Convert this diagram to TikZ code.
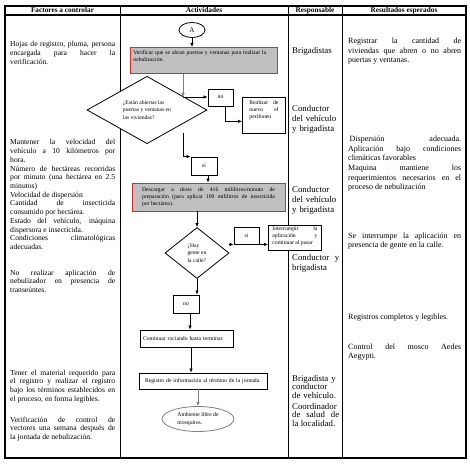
\documentclass[tikz,border=0pt]{standalone}
\usepackage{fontspec}
\setmainfont{Liberation Serif}
\usetikzlibrary{shapes.geometric,arrows.meta}
\definecolor{boxred}{RGB}{228,38,44}
\definecolor{boxgrey}{RGB}{192,192,192}
\newcommand\setfs[2]{\fontsize{#1}{#2}\selectfont}
\tikzset{
  stepbox/.style={draw, line width=0.8pt, fill=white, inner sep=1.5pt, align=left, font=\setfs{5.7}{7}},
  greybox/.style={stepbox, draw=boxred, fill=boxgrey},
  askdiamond/.style={diamond, draw, line width=0.8pt, fill=white, inner sep=0pt, align=left, font=\setfs{5.6}{7.7}},
  startnode/.style={ellipse, draw, line width=0.8pt, minimum width=26pt, minimum height=15pt, inner sep=0pt, font=\setfs{7}{8}},
  endellipse/.style={ellipse, draw=gray, line width=0.8pt, fill=white, minimum width=72pt, minimum height=25pt, inner sep=0pt, align=left, font=\setfs{5.7}{7.3}},
  flow/.style={->, line width=0.7pt},
  softflow/.style={flow, draw=gray},
  headcell/.style={inner sep=0pt, font=\bfseries\setfs{7.3}{8}},
  cell/.style={anchor=base west, inner sep=0pt, align=justify},
  factor/.style={cell, text width=105pt, font=\setfs{7.6}{8.7}},
  who/.style={cell, text width=47pt, align=left, font=\setfs{8.8}{10}},
  result/.style={cell, text width=113pt, font=\setfs{8}{9.5}}
}
\begin{document}
\begin{tikzpicture}[x=1pt, y=-1pt, >={Latex[length=4pt,width=3.6pt]}]
    \useasboundingbox (0,0) rectangle (470,465);
    % table
    \draw[line width=1.3pt] (5,6) rectangle (466,458);
    \draw[line width=1.3pt] (5,15) -- (466,15);
    \foreach \cx in {120,288,342}
        \draw[line width=1pt] (\cx,6) -- (\cx,458);
    \node[headcell] (hfac) at (62.5,10.5) {Factores a controlar};
    \node[headcell] (hact) at (204,10.5) {Actividades};
    \node[headcell] (hwho) at (315,10.5) {Responsable};
    \node[headcell] (hres) at (404,10.5) {Resultados esperados};

    % activities
    \node[startnode] (A) at (192,30) {A};
    \node[greybox, anchor=north west, text width=141pt, inner xsep=3pt, inner ysep=3pt, text depth=15.9pt] (verif) at (130,47) {Verificar que se abran puertas y ventanas para realizar la\\ nebulización.};
    \node[askdiamond, minimum width=120pt, minimum height=60pt] (open) at (147,110) {¿Están abiertas las\\ puertas y ventanas en\\ las viviendas?};
    \node[stepbox, minimum width=25pt, minimum height=17pt] (no1) at (220.5,97.5) {no};
    \node[stepbox, anchor=north west, text width=29pt, align=justify, inner xsep=7pt, inner ysep=3pt, text depth=25.9pt] (again) at (242,97) {Realizar de\linebreak nuevo el\linebreak perifoneo};
    \node[stepbox, minimum width=26pt, minimum height=18pt] (si1) at (204,166) {si};
    \node[greybox, minimum width=153pt, minimum height=28pt, text width=133pt, align=justify] (dose) at (208.5,197) {Descargar a dosis de 416 mililitros/minuto de\linebreak preparación (para aplicar 100 mililitros de insecticida\linebreak por hectárea).};
    \node[askdiamond, minimum width=64pt, minimum height=51pt] (people) at (197,253) {¿Hay\\ gente en\\ la calle?};
    \node[stepbox, minimum width=25pt, minimum height=17pt] (si2) at (246.5,235.5) {si};
    \node[stepbox, anchor=north west, text width=45pt, align=justify, inner xsep=4pt, inner ysep=1pt, text depth=18.9pt] (stop) at (268,225) {Interrumpir la\linebreak aplicación y\linebreak continuar al pasar};
    \node[stepbox, minimum width=26pt, minimum height=18pt] (no2) at (186,304) {no};
    \node[stepbox, minimum width=93pt, minimum height=17pt, text width=87pt] (spray) at (186.5,338.5) {Continuar rociando hasta terminar.};
    \node[stepbox, minimum width=128pt, minimum height=16pt, text width=126pt, inner xsep=1pt] (log) at (203,381) {\hspace*{5pt}Registro de información al término de la jornada.};
    \node[endellipse] (clean) at (198,419) {Ambiente libre de\\ mosquitos.};

    \coordinate (openin) at (183,97);
    \coordinate (openout) at (183,133);
    \draw[flow] (A.south) -- (A.south |- verif.north);
    \draw[softflow] (verif.south -| openin) -- (openin);
    \draw[flow] (openin) -- (openin -| no1.west);
    \draw[flow] ([xshift=5pt]no1.south) |- ([yshift=-6pt]again.west);
    \draw[flow] (openout) |- (si1.north west);
    \draw[flow] ([xshift=4pt]si1.south) -- ([xshift=4pt]si1.south |- dose.north);
    \draw[flow] (people.north |- dose.south) -- (people.north);
    \draw[flow] (people.east |- si2.south) -- (si2.south west);
    \draw[flow] (si2.south east) -- (si2.south east -| stop.west);
    \draw[flow] (people.south) -- (people.south |- no2.north);
    \draw[flow] ([xshift=4pt]no2.south) -- ([xshift=4pt]no2.south |- spray.north);
    \draw[flow] ([xshift=4.5pt]spray.south) -- ([xshift=4.5pt]spray.south |- log.north);
    \draw[softflow] (clean.north |- log.south) -- (clean.north);

    % factores a controlar
    \node[factor] (f1) at (10,47) {Hojas de registro, pluma, persona\linebreak encargada para hacer la\linebreak verificación.};
    \node[factor] (f2) at (10,145) {Mantener la velocidad del\linebreak vehículo a 10 kilómetros por\linebreak hora.\\ Número de hectáreas recorridas\linebreak por minuto (una hectárea en 2.5\linebreak minutos)\\ Velocidad de dispersión\\ Cantidad de insecticida\linebreak consumido por hectárea.\\ Estado del vehículo, máquina\linebreak dispersora e insecticida.\\ Condiciones climatológicas\linebreak adecuadas.};
    \node[factor] (f3) at (10,275) {No realizar aplicación de\linebreak nebulizador en presencia de\linebreak transeúntes.};
    \node[factor] (f4) at (10,375) {Tener el material requerido para\linebreak el registro y realizar el registro\linebreak bajo los términos establecidos en\linebreak el proceso, en forma legibles.};
    \node[factor] (f5) at (10,422) {Verificación de control de\linebreak vectores una semana después de\linebreak la jornada de nebulización.};

    % responsable
    \node[who] (w1) at (292,54) {Brigadistas};
    \node[who] (w2) at (292,112) {Conductor\\ del vehículo\\ y brigadista};
    \node[who] (w3) at (292,192) {Conductor\\ del vehículo\\ y brigadista};
    \node[who, align=justify] (w4) at (292,260) {Conductor y\linebreak brigadista};
    \node[who, font=\setfs{8.8}{8.5}] (w5) at (292,381) {Brigadista y\\ conductor\\ de vehículo.};
    \node[who, align=justify, font=\setfs{8.8}{8.5}] (w6) at (292,409) {Coordinador\linebreak de salud de\linebreak la localidad.};

    % resultados esperados
    \node[result] (r1) at (348,44) {Registrar la cantidad de\linebreak viviendas que abren o no abren\linebreak puertas y ventanas.};
    \node[result] (r2) at (348,142) {\hspace*{1.5pt}Dispersión adecuada.\linebreak Aplicación bajo condiciones\linebreak climáticas favorables\\ Maquina mantiene los\linebreak requerimientos necesarios en el\linebreak proceso de nebulización};
    \node[result] (r3) at (348,238) {Se interrumpe la aplicación en\linebreak presencia de gente en la calle.};
    \node[result] (r4) at (348,319) {Registros completos y legibles.};
    \node[result] (r5) at (348,349) {Control del mosco Aedes\linebreak Aegypti.};
\end{tikzpicture}
\end{document}
